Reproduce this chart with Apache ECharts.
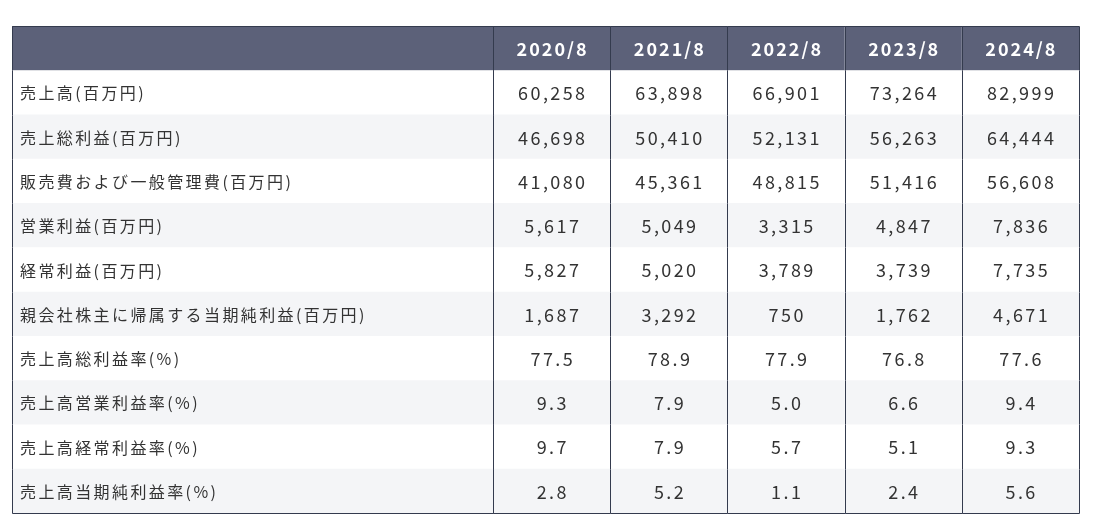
<!DOCTYPE html>
<html>
<head>
<meta charset="utf-8">
<script src="https://cdn.jsdelivr.net/npm/echarts@6/dist/echarts.min.js"></script>
<style>
  html, body { margin: 0; padding: 0; background: #fff; }
  #main { width: 1105px; height: 526px; }
</style>
</head>
<body>
<div id="main"></div>
<script>
var years = ['2020/8', '2021/8', '2022/8', '2023/8', '2024/8'];
var itemNames = [
    '売上高(百万円)',
    '売上総利益(百万円)',
    '販売費および一般管理費(百万円)',
    '営業利益(百万円)',
    '経常利益(百万円)',
    '親会社株主に帰属する当期純利益(百万円)',
    '売上高総利益率(%)',
    '売上高営業利益率(%)',
    '売上高経常利益率(%)',
    '売上高当期純利益率(%)'
];
var sales = [60258, 63898, 66901, 73264, 82999];
var grossProfit = [46698, 50410, 52131, 56263, 64444];
var sgaExpenses = [41080, 45361, 48815, 51416, 56608];
var operatingIncome = [5617, 5049, 3315, 4847, 7836];
var ordinaryIncome = [5827, 5020, 3789, 3739, 7735];
var netIncome = [1687, 3292, 750, 1762, 4671];
var grossMargin = [77.5, 78.9, 77.9, 76.8, 77.6];
var operatingMargin = [9.3, 7.9, 5.0, 6.6, 9.4];
var ordinaryMargin = [9.7, 7.9, 5.7, 5.1, 9.3];
var netMargin = [2.8, 5.2, 1.1, 2.4, 5.6];

var amountRows = [sales, grossProfit, sgaExpenses, operatingIncome, ordinaryIncome, netIncome];
var rateRows = [grossMargin, operatingMargin, ordinaryMargin, netMargin];

var HEADER_BG = '#5c6179';
var STRIPE_BG = '#f4f5f7';
var BORDER = '#343b4e';
var TEXT = '#333333';
var FONT = '"Noto Sans CJK JP", "Noto Sans", sans-serif';

var rowKeys = ['header'].concat(itemNames);
var nRows = rowKeys.length;

// cell data: [col, row, text]
var labelData = [[0, 0, '']];
itemNames.forEach(function(name, i) {
    labelData.push([0, i + 1, name]);
});

var valueData = [];
years.forEach(function(y, c) {
    valueData.push([c, 0, y]);
});
amountRows.forEach(function(arr, r) {
    arr.forEach(function(v, c) {
        valueData.push([c, r + 1, v.toLocaleString('en-US')]);
    });
});
rateRows.forEach(function(arr, r) {
    arr.forEach(function(v, c) {
        valueData.push([c, amountRows.length + r + 1, v.toFixed(1)]);
    });
});

// letter-spaced text, one text element per character
var measureCtx = document.createElement('canvas').getContext('2d');
function spacedText(str, x, y, align, font, fill, spacing) {
    measureCtx.font = font;
    var chars = str.split('');
    var widths = chars.map(function(ch) { return measureCtx.measureText(ch).width; });
    var total = widths.reduce(function(a, b) { return a + b; }, 0) + spacing * chars.length;
    var cx = align === 'center' ? x - total / 2 + spacing / 2 : x;
    var out = [];
    chars.forEach(function(ch, i) {
        out.push({
            type: 'text',
            style: {
                text: ch, x: cx, y: y,
                align: 'left', verticalAlign: 'middle',
                textAlign: 'left', textVerticalAlign: 'middle',
                fill: fill, font: font
            },
            z2: 10
        });
        cx += widths[i] + spacing;
    });
    return out;
}

function px(v) {
    return Math.round(v) + 0.5;
}

function makeRenderer(cells, isLabel, nCols) {
    return function(params, api) {
        var col = api.value(0);
        var row = api.value(1);
        var text = cells[params.dataIndex][2];
        var center = api.coord([col, row]);
        var size = api.size([1, 1]);
        var x0 = center[0] - size[0] / 2;
        var y0 = center[1] - size[1] / 2;
        var x1 = x0 + size[0];
        var y1 = y0 + size[1];
        var isHeader = row === 0;
        var fill = isHeader ? HEADER_BG : (row % 2 === 0 ? STRIPE_BG : '#ffffff');
        var children = [{
            type: 'rect',
            shape: { x: x0, y: y0, width: size[0], height: size[1] + 0.5 },
            style: { fill: fill }
        }];
        var font = (isHeader ? 'bold ' : '') + (isLabel ? '16px ' : '18px ') + FONT;
        children = children.concat(spacedText(
            text,
            isLabel ? x0 + 8 : center[0],
            center[1] + 1,
            isLabel ? 'left' : 'center',
            font,
            isHeader ? '#ffffff' : TEXT,
            isHeader ? 2 : 2.4
        ));
        var lines = [[x0, y0, x0, y1]];
        if (col === nCols - 1) lines.push([x1, y0, x1, y1]);
        if (row === 0) lines.push([x0, y0, x1, y0]);
        if (row === nRows - 1) lines.push([x0, y1, x1, y1]);
        lines.forEach(function(l) {
            children.push({
                type: 'line',
                shape: { x1: px(l[0]), y1: px(l[1]), x2: px(l[2]), y2: px(l[3]) },
                style: { stroke: BORDER, lineWidth: 1 },
                z2: 20
            });
        });
        return { type: 'group', children: children };
    };
}

var chart = echarts.init(document.getElementById('main'));

var option = {
    animation: false,
    grid: [
        { left: 12, top: 26, width: 481, height: 487 },
        { left: 493, top: 26, width: 586, height: 487 }
    ],
    xAxis: [
        { gridIndex: 0, type: 'category', data: [''], show: false },
        { gridIndex: 1, type: 'category', data: years, show: false }
    ],
    yAxis: [
        { gridIndex: 0, type: 'category', data: rowKeys, inverse: true, show: false },
        { gridIndex: 1, type: 'category', data: rowKeys, inverse: true, show: false }
    ],
    series: [
        {
            type: 'custom',
            xAxisIndex: 0,
            yAxisIndex: 0,
            encode: { x: 0, y: 1 },
            data: labelData,
            renderItem: makeRenderer(labelData, true, 1),
            silent: true
        },
        {
            type: 'custom',
            xAxisIndex: 1,
            yAxisIndex: 1,
            encode: { x: 0, y: 1 },
            data: valueData,
            renderItem: makeRenderer(valueData, false, years.length),
            silent: true
        }
    ]
};

chart.setOption(option);
</script>
</body>
</html>
